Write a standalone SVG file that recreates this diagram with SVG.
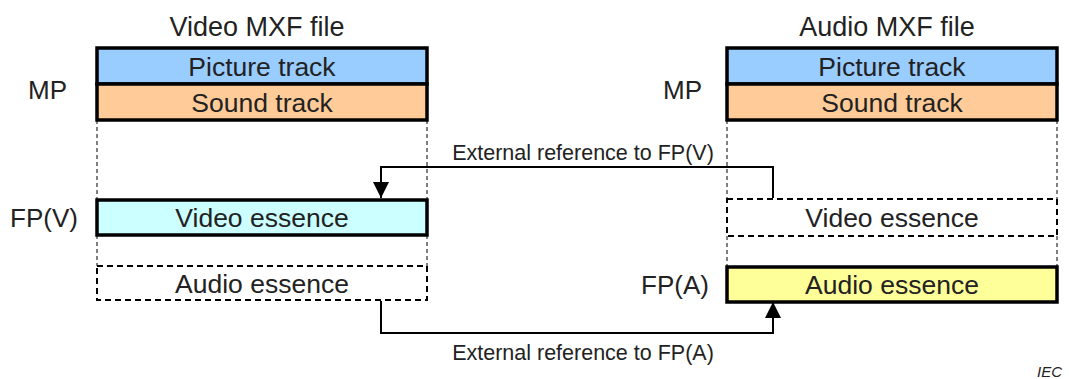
<svg xmlns="http://www.w3.org/2000/svg" width="1069" height="379" viewBox="0 0 1069 379">
  <style>
    text { font-family: "Liberation Sans", Arial, sans-serif; fill: #222; }
    .big { font-size: 26px; }
    .mid { font-size: 26.5px; text-anchor: middle; }
    .title { font-size: 27px; text-anchor: middle; }
    .lbl { font-size: 21.5px; text-anchor: middle; }
    .solid { stroke: #000; stroke-width: 3.5; }
    .dbox { fill: #fff; stroke: #000; stroke-width: 2; stroke-dasharray: 6 4; }
    .guide { stroke: #000; stroke-width: 1; stroke-dasharray: 4 3; fill: none; }
    .conn { stroke: #000; stroke-width: 2; fill: none; }
  </style>
  <defs>
    <marker id="arrowBig" viewBox="0 0 10 10" refX="10" refY="5" markerWidth="16" markerHeight="16" markerUnits="userSpaceOnUse" orient="auto">
      <path d="M0,0 L10,5 L0,10 Z" fill="#000"/>
    </marker>
  </defs>

  <!-- Left file: Video MXF -->
  <g id="video-mxf">
    <text class="title" x="257" y="36">Video MXF file</text>
    <text class="big" x="28" y="99">MP</text>
    <text class="big" x="10" y="227">FP(V)</text>
    <path class="guide" d="M97,120 V200 M427,120 V200 M97,235 V266 M427,235 V266"/>
  </g>
  <g id="video-picture-track">
    <rect class="solid" x="97" y="48" width="330" height="36" fill="#99ccff"/>
    <text class="mid" x="262" y="76">Picture track</text>
  </g>
  <g id="video-sound-track">
    <rect class="solid" x="97" y="84" width="330" height="36" fill="#ffcc99"/>
    <text class="mid" x="262" y="112">Sound track</text>
  </g>
  <g id="video-essence-v">
    <rect class="solid" x="97" y="200" width="330" height="35" fill="#ccffff"/>
    <text class="mid" x="262" y="227">Video essence</text>
  </g>
  <g id="video-essence-a">
    <rect class="dbox" x="97" y="266" width="330" height="34"/>
    <text class="mid" x="262" y="293">Audio essence</text>
  </g>

  <!-- Right file: Audio MXF -->
  <g id="audio-mxf">
    <text class="title" x="887" y="36">Audio MXF file</text>
    <text class="big" x="663" y="99">MP</text>
    <text class="big" x="641" y="294">FP(A)</text>
    <path class="guide" d="M727,120 V199 M1057,120 V199 M727,236 V266 M1057,236 V266"/>
  </g>
  <g id="audio-picture-track">
    <rect class="solid" x="727" y="48" width="330" height="36" fill="#99ccff"/>
    <text class="mid" x="892" y="76">Picture track</text>
  </g>
  <g id="audio-sound-track">
    <rect class="solid" x="727" y="84" width="330" height="36" fill="#ffcc99"/>
    <text class="mid" x="892" y="112">Sound track</text>
  </g>
  <g id="audio-essence-v">
    <rect class="dbox" x="727" y="199" width="330" height="37"/>
    <text class="mid" x="892" y="227">Video essence</text>
  </g>
  <g id="audio-essence-a">
    <rect class="solid" x="727" y="267" width="330" height="35" fill="#ffff99"/>
    <text class="mid" x="892" y="294">Audio essence</text>
  </g>

  <!-- External references -->
  <g id="connectors">
    <path class="conn" d="M773,198 V167 H381 V198" marker-end="url(#arrowBig)"/>
    <text class="lbl" x="583" y="160">External reference to FP(V)</text>
    <path class="conn" d="M381,301 V333 H773 V302" marker-end="url(#arrowBig)"/>
    <text class="lbl" x="583" y="360">External reference to FP(A)</text>
  </g>

  <text x="1037" y="377" style="font-size:15px;font-style:italic">IEC</text>
</svg>
